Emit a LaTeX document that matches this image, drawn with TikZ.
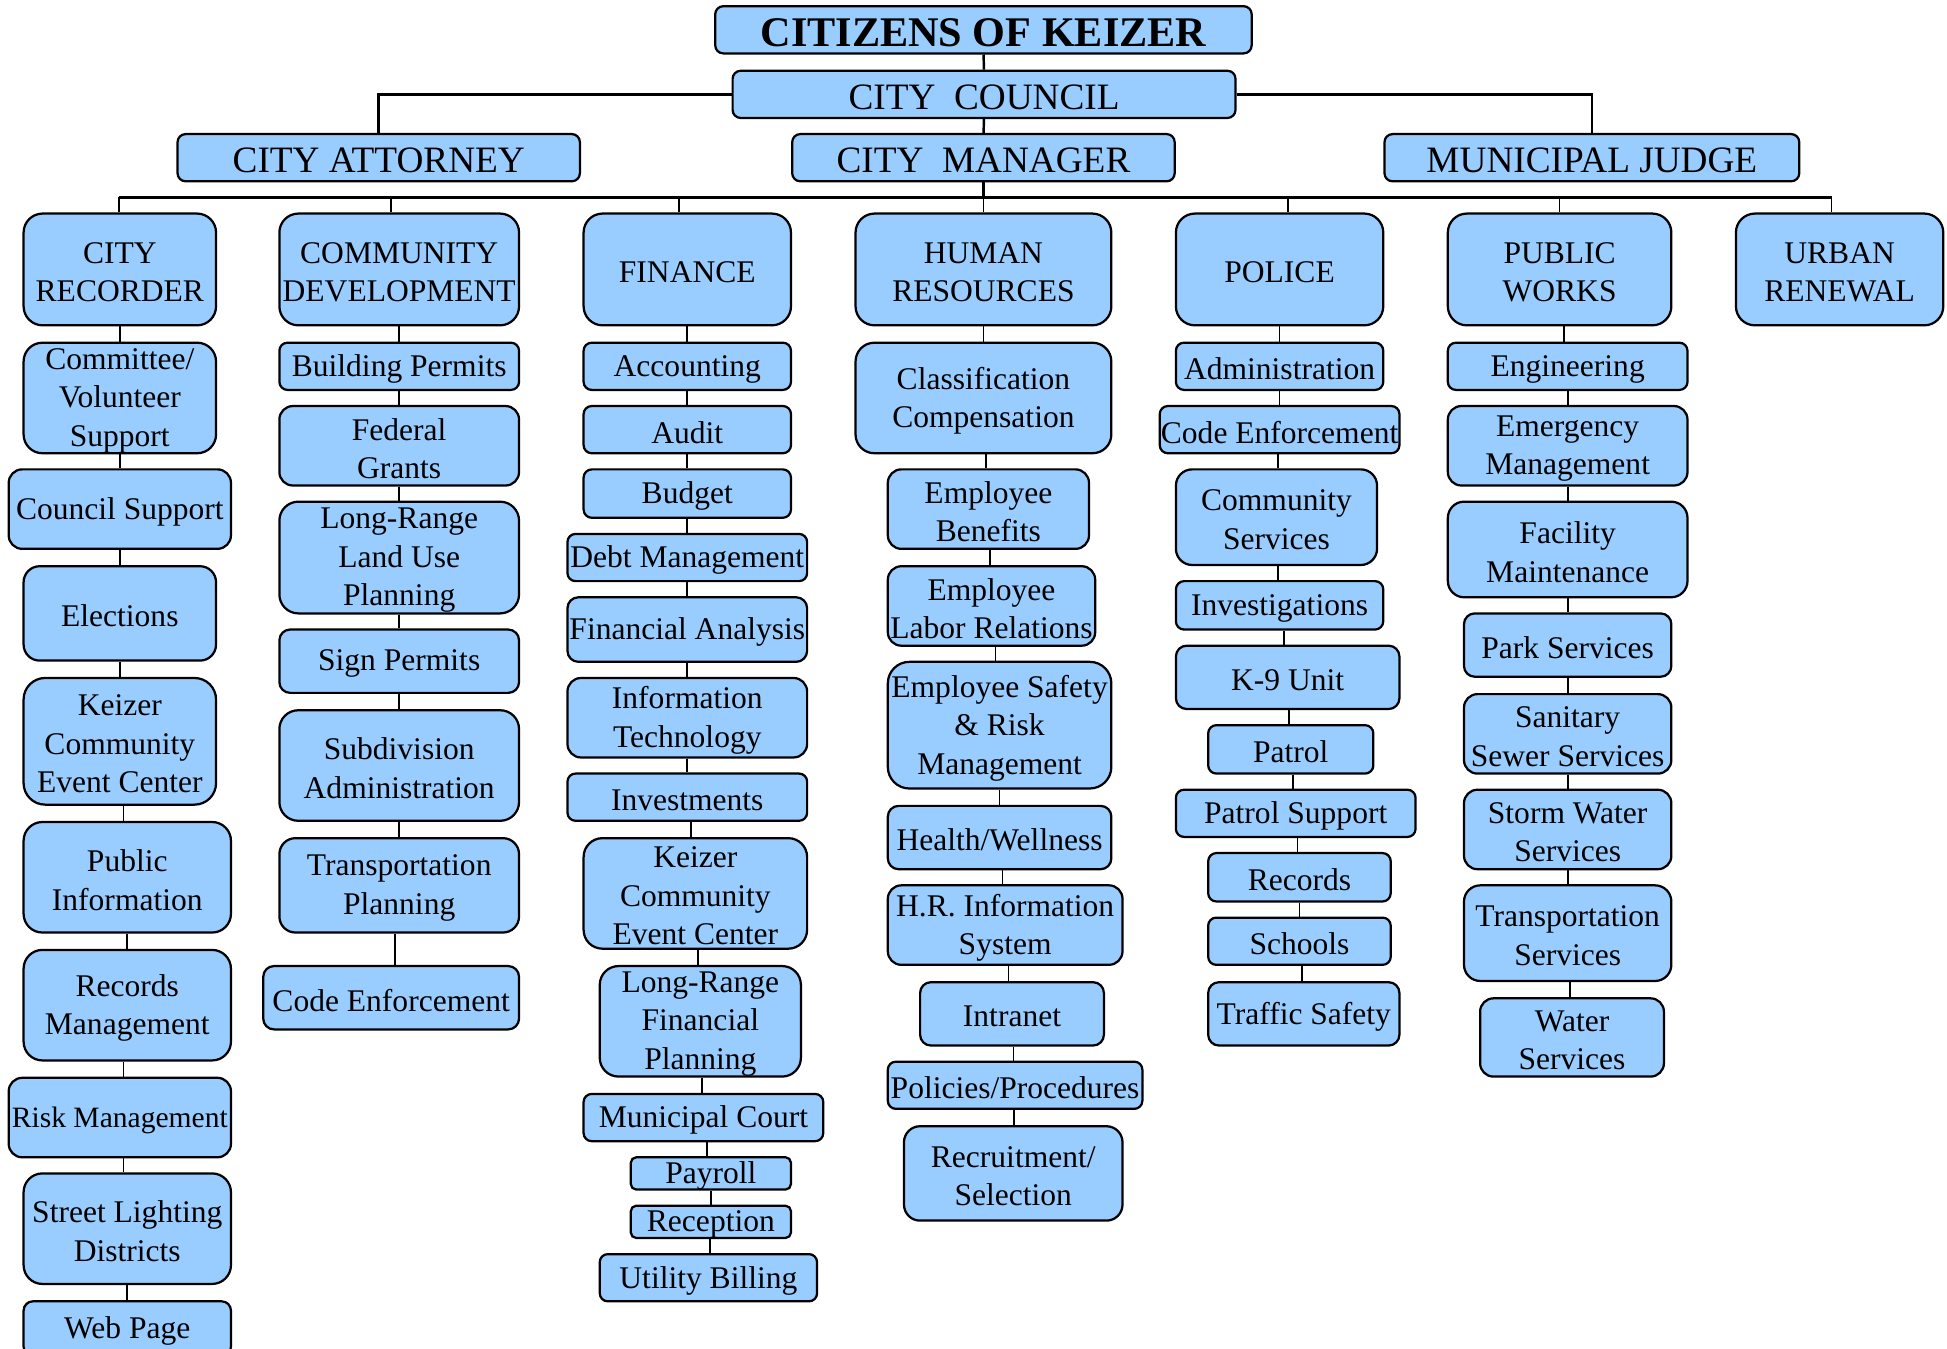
\documentclass[tikz,border=0pt]{standalone}
\usepackage{fontspec}
\setmainfont{Liberation Serif}
\usetikzlibrary{calc}
\definecolor{boxblue}{HTML}{99CCFF}
\tikzset{
 box/.style={draw=black, fill=boxblue, line width=0.9pt, inner sep=0pt},
 boxtext/.style={inner sep=0pt, align=center, font=\fontsize{12.7}{15.5}\selectfont},
 smalltext/.style={boxtext, font=\fontsize{11.9}{15.5}\selectfont},
 toptext/.style={boxtext, font=\fontsize{15}{18}\selectfont},
 titletext/.style={boxtext, font=\fontsize{17}{20}\selectfont\bfseries},
 conn/.style={line width=0.7pt, draw=black},
 mainconn/.style={line width=1pt, draw=black},
}
\newcommand\orgbox[7][boxtext]{%
 \pgfmathsetmacro\myBW{(#5-#3)*0.5}%
 \pgfmathsetmacro\myBH{(#6-#4)*0.5}%
 \pgfmathsetmacro\myBR{min(\myBW,\myBH)*0.17}%
 \node[box, minimum width=\myBW pt, minimum height=\myBH pt, rounded corners=\myBR pt] (#2) at ({(#3+#5)/2},{(#4+#6)/2}) {};
 \node[#1] (#2-t) at ([yshift=-1.1pt]#2.center) {#7};}
\begin{document}
\begin{tikzpicture}[x=0.5pt,y=-0.5pt]
\useasboundingbox (0,0) rectangle (1568,1086);
% top
\orgbox[titletext]{citizens}{576}{5}{1008}{43}{CITIZENS OF KEIZER}
\orgbox[toptext]{council}{590}{57}{995}{95}{CITY\ \ COUNCIL}
\orgbox[toptext]{attorney}{143}{108}{467}{146}{CITY ATTORNEY}
\orgbox[toptext]{manager}{638}{108}{946}{146}{CITY\ \ MANAGER}
\orgbox[toptext]{judge}{1115}{108}{1449}{146}{MUNICIPAL JUDGE}
% departments
\orgbox{rec}{19}{172}{174}{262}{CITY\\RECORDER}
\orgbox{cd}{225}{172}{418}{262}{COMMUNITY\\DEVELOPMENT}
\orgbox{fin}{470}{172}{637}{262}{FINANCE}
\orgbox{hr}{689}{172}{895}{262}{HUMAN\\RESOURCES}
\orgbox{pol}{947}{172}{1114}{262}{POLICE}
\orgbox{pw}{1166}{172}{1346}{262}{PUBLIC\\WORKS}
\orgbox{ur}{1398}{172}{1565}{262}{URBAN\\RENEWAL}
% city recorder
\orgbox{r1}{19}{276}{174}{365}{Committee/\\Volunteer\\Support}
\orgbox{r2}{7}{378}{186}{442}{Council Support}
\orgbox{r3}{19}{456}{174}{532}{Elections}
\orgbox{r4}{19}{546}{174}{648}{Keizer\\Community\\Event Center}
\orgbox{r5}{19}{662}{186}{751}{Public\\Information}
\orgbox{r6}{19}{765}{186}{854}{Records\\Management}
\orgbox[smalltext]{r7}{7}{868}{186}{932}{Risk Management}
\orgbox{r8}{19}{945}{186}{1034}{Street Lighting\\Districts}
\orgbox{r9}{19}{1048}{186}{1092}{Web Page}
% community development
\orgbox{c1}{225}{276}{418}{314}{Building Permits}
\orgbox{c2}{225}{327}{418}{391}{Federal\\Grants}
\orgbox{c3}{225}{404}{418}{494}{Long-Range\\Land Use\\Planning}
\orgbox{c4}{225}{507}{418}{558}{Sign Permits}
\orgbox{c5}{225}{572}{418}{661}{Subdivision\\Administration}
\orgbox{c6}{225}{675}{418}{751}{Transportation\\Planning}
\orgbox{c7}{212}{778}{418}{829}{Code Enforcement}
% finance
\orgbox{f1}{470}{276}{637}{314}{Accounting}
\orgbox{f2}{470}{327}{637}{365}{Audit}
\orgbox{f3}{470}{378}{637}{417}{Budget}
\orgbox{f4}{457}{430}{650}{468}{Debt Management}
\orgbox{f5}{457}{481}{650}{533}{Financial Analysis}
\orgbox{f6}{457}{546}{650}{610}{Information\\Technology}
\orgbox{f7}{457}{623}{650}{661}{Investments}
\orgbox{f8}{470}{675}{650}{764}{Keizer\\Community\\Event Center}
\orgbox{f9}{483}{778}{645}{867}{Long-Range\\Financial\\Planning}
\orgbox{f10}{470}{881}{663}{919}{Municipal Court}
\orgbox{f11}{508}{932}{637}{958}{Payroll}
\orgbox{f12}{508}{971}{637}{997}{Reception}
\orgbox{f13}{483}{1010}{658}{1048}{Utility Billing}
% human resources
\orgbox{h1}{689}{276}{895}{365}{Classification\\Compensation}
\orgbox{h2}{715}{378}{877}{442}{Employee\\Benefits}
\orgbox{h3}{715}{456}{882}{520}{Employee\\Labor Relations}
\orgbox{h4}{715}{533}{895}{635}{Employee Safety\\\& Risk\\Management}
\orgbox{h5}{715}{649}{895}{700}{Health/Wellness}
\orgbox{h6}{715}{713}{904}{777}{H.R. Information\\System}
\orgbox{h7}{741}{791}{889}{842}{Intranet}
\orgbox{h8}{715}{855}{920}{893}{Policies/Procedures}
\orgbox{h9}{728}{907}{904}{983}{Recruitment/\\Selection}
% police
\orgbox{p1}{947}{276}{1114}{314}{Administration}
\orgbox{p2}{934}{327}{1127}{365}{Code Enforcement}
\orgbox{p3}{947}{378}{1109}{455}{Community\\Services}
\orgbox{p4}{947}{468}{1114}{507}{Investigations}
\orgbox{p5}{947}{520}{1127}{571}{K-9 Unit}
\orgbox{p6}{973}{584}{1106}{623}{Patrol}
\orgbox{p7}{947}{636}{1140}{674}{Patrol Support}
\orgbox{p8}{973}{687}{1120}{726}{Records}
\orgbox{p9}{973}{739}{1120}{777}{Schools}
\orgbox{p10}{973}{791}{1127}{842}{Traffic Safety}
% public works
\orgbox{w1}{1166}{276}{1359}{314}{Engineering}
\orgbox{w2}{1166}{327}{1359}{391}{Emergency\\Management}
\orgbox{w3}{1166}{404}{1359}{481}{Facility\\Maintenance}
\orgbox{w4}{1179}{494}{1346}{545}{Park Services}
\orgbox{w5}{1179}{559}{1346}{623}{Sanitary\\Sewer Services}
\orgbox{w6}{1179}{636}{1346}{700}{Storm Water\\Services}
\orgbox{w7}{1179}{713}{1346}{790}{Transportation\\Services}
\orgbox{w8}{1192}{804}{1340}{867}{Water\\Services}
% upper connectors
\draw[mainconn] (citizens) -- (council);
\draw[mainconn] (council) -- (manager);
\draw[mainconn] (council.west) -| (attorney.north);
\draw[mainconn] (council.east) -| (judge.north);
\coordinate (busL) at (96,159);
\coordinate (busR) at (1475,159);
\draw[mainconn] (manager.south) -- (manager.south |- busL);
\draw[mainconn] (busL) -- (busR);
\foreach \n/\xx in {rec/96, cd/315, fin/547, hr/792, pol/1037, pw/1256, ur/1475}
  \draw[conn] (\xx,159) -- (\xx,0 |- \n.north);
% chains (vertical, at the mean of the two centres)
\foreach \a/\b in {rec/r1,r1/r2,r2/r3,r3/r4,r4/r5,r5/r6,r6/r7,r7/r8,r8/r9,
  cd/c1,c1/c2,c2/c3,c3/c4,c4/c5,c5/c6,c6/c7,
  fin/f1,f1/f2,f2/f3,f3/f4,f4/f5,f5/f6,f6/f7,f7/f8,f8/f9,f9/f10,f10/f11,f11/f12,f12/f13,
  hr/h1,h1/h2,h2/h3,h3/h4,h4/h5,h5/h6,h6/h7,h7/h8,h8/h9,
  pol/p1,p1/p2,p2/p3,p3/p4,p4/p5,p5/p6,p6/p7,p7/p8,p8/p9,p9/p10,
  pw/w1,w1/w2,w2/w3,w3/w4,w4/w5,w5/w6,w6/w7,w7/w8}
  \draw[conn] let \p1=(\a.south), \p2=(\b.north) in
    ({(\x1+\x2)/2},\y1) -- ({(\x1+\x2)/2},\y2);
\end{tikzpicture}
\end{document}
